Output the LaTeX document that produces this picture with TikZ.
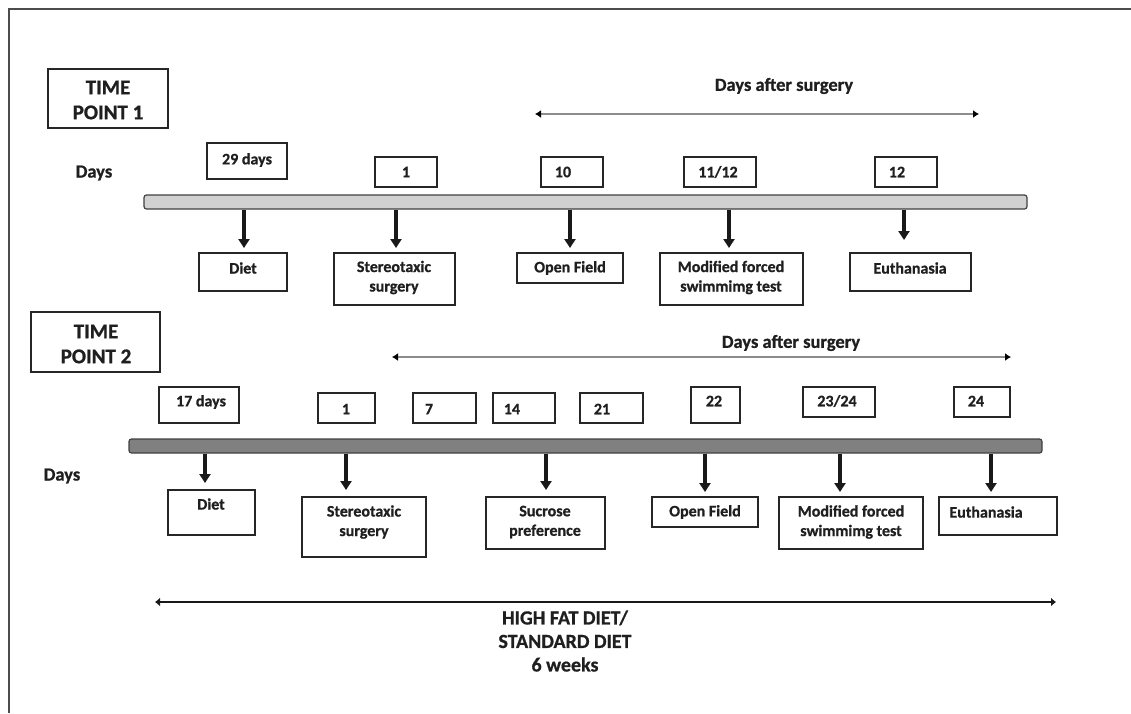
\documentclass[tikz,border=0pt]{standalone}
\usepackage{fontspec}
\setmainfont{Carlito}[BoldFeatures={FakeBold=0.8}]
\usetikzlibrary{arrows.meta,fit}
\begin{document}
\begin{tikzpicture}[x=1pt,y=-1pt,
  box/.style={draw=black!85, line width=1.6pt, inner sep=0pt},
  lbl/.style={font=\bfseries\fontsize{16}{19.5}\selectfont, align=center, inner sep=0pt, text=black!88},
  big/.style={font=\bfseries\fontsize{21}{25}\selectfont, align=center, inner sep=0pt, text=black!88},
  head/.style={font=\bfseries\fontsize{18.5}{25}\selectfont, align=center, inner sep=0pt, text=black!88},
  diettxt/.style={font=\bfseries\fontsize{20}{23.5}\selectfont, align=center, inner sep=0pt, text=black!88},
  bar/.style={draw=black!75, line width=1.2pt, rounded corners=2.5pt, inner sep=0pt},
  darr/.style={line width=3.6pt, black!90, -{Triangle[length=9pt,width=11pt]}},
  rng/.style={line width=1.8pt, black!45, {Latex[length=6pt,width=8pt,color=black]}-{Latex[length=6pt,width=8pt,color=black]}},
  diet/.style={line width=2.6pt, black!90, {Latex[length=5pt,width=9pt]}-{Latex[length=5pt,width=9pt]}}
]
\useasboundingbox (0,0) rectangle (1131,713);
\draw[black!70, line width=1.2pt] (9,713) -- (9,9) -- (1131,9);

% ---------------- TIME POINT 1 ----------------
\node[box, fit={(48,69) (168,128)}] (tp1) {};
\node[big] (tp1t) at (108,100) {TIME\\POINT 1};
\node[head] (das1) at (784,86) {Days after surgery};
\coordinate (r1a) at (535,114);
\coordinate (r1b) at (979,114);
\draw[rng] (r1a) -- (r1b);
\node[head] (days1) at (94,173) {Days};

\node[box, fit={(207,143) (287,179)}] (t1a) {};
\node[lbl] (t1at) at (247,160) {29 days};
\node[box, fit={(375,157) (437,187)}] (t1b) {};
\node[lbl] (t1bt) at (406,172) {1};
\node[box, fit={(541,157) (603,187)}] (t1c) {};
\node[lbl] (t1ct) at (563,172) {10};
\node[box, fit={(684,157) (756,187)}] (t1d) {};
\node[lbl] (t1dt) at (718,172) {11/12};
\node[box, fit={(875,157) (937,187)}] (t1e) {};
\node[lbl] (t1et) at (897,172) {12};

\node[bar, fill=black!18, fit={(144,195) (1027,209)}] (bar1) {};

\node[box, fit={(199,253) (287,291)}] (b1a) {};
\node[lbl] (b1at) at (243,268) {Diet};
\node[box, fit={(334,253) (455,305)}] (b1b) {};
\node[lbl] (b1bt) at (394,277.5) {Stereotaxic\\surgery};
\node[box, fit={(517,253) (623,283)}] (b1c) {};
\node[lbl] (b1ct) at (570,268) {Open Field};
\node[box, fit={(660,253) (803,305)}] (b1d) {};
\node[lbl] (b1dt) at (731,277.5) {Modified forced\\swimmimg test};
\node[box, fit={(850,253) (971,291)}] (b1e) {};
\node[lbl] (b1et) at (910,268) {Euthanasia};

\coordinate (e1a) at (244,248);
\coordinate (e1b) at (396,248);
\coordinate (e1c) at (570,248);
\coordinate (e1d) at (729,248);
\coordinate (e1e) at (904,240);
\foreach \e in {e1a,e1b,e1c,e1d,e1e}
  \draw[darr] (\e |- bar1.south) -- (\e);

% ---------------- TIME POINT 2 ----------------
\node[box, fit={(31,312) (160,372)}] (tp2) {};
\node[big] (tp2t) at (96,344) {TIME\\POINT 2};
\node[head] (das2) at (791,343) {Days after surgery};
\coordinate (r2a) at (392,357);
\coordinate (r2b) at (1011,357);
\draw[rng] (r2a) -- (r2b);
\node[head] (days2) at (62,476) {Days};

\node[box, fit={(159,387) (239,423)}] (t2a) {};
\node[lbl] (t2at) at (201,402) {17 days};
\node[box, fit={(318,393) (375,423)}] (t2b) {};
\node[lbl] (t2bt) at (346,409) {1};
\node[box, fit={(413,393) (476,423)}] (t2c) {};
\node[lbl] (t2ct) at (429,409) {7};
\node[box, fit={(493,393) (555,423)}] (t2d) {};
\node[lbl] (t2dt) at (512,409) {14};
\node[box, fit={(580,393) (643,423)}] (t2e) {};
\node[lbl] (t2et) at (602,409) {21};
\node[box, fit={(691,387) (740,423)}] (t2f) {};
\node[lbl] (t2ft) at (714,401) {22};
\node[box, fit={(803,387) (875,417)}] (t2g) {};
\node[lbl] (t2gt) at (837,401) {23/24};
\node[box, fit={(954,387) (1010,417)}] (t2h) {};
\node[lbl] (t2ht) at (976,401) {24};

\node[bar, fill=black!50, fit={(129,439) (1042,453)}] (bar2) {};

\node[box, fit={(168,490) (255,535)}] (b2a) {};
\node[lbl] (b2at) at (211,504) {Diet};
\node[box, fit={(302,497) (426,557)}] (b2b) {};
\node[lbl] (b2bt) at (364,522) {Stereotaxic\\surgery};
\node[box, fit={(486,497) (605,549)}] (b2c) {};
\node[lbl] (b2ct) at (545,522) {Sucrose\\preference};
\node[box, fit={(652,497) (758,527)}] (b2d) {};
\node[lbl] (b2dt) at (705,512) {Open Field};
\node[box, fit={(779,497) (923,549)}] (b2e) {};
\node[lbl] (b2et) at (851,522) {Modified forced\\swimmimg test};
\node[box, fit={(939,497) (1057,535)}] (b2f) {};
\node[lbl] (b2ft) at (986,512) {Euthanasia};

\coordinate (e2a) at (205,483);
\coordinate (e2b) at (346,490);
\coordinate (e2c) at (546,490);
\coordinate (e2d) at (705,492);
\coordinate (e2e) at (840,492);
\coordinate (e2f) at (991,492);
\foreach \e in {e2a,e2b,e2c,e2d,e2e,e2f}
  \draw[darr] (\e |- bar2.south) -- (\e);

% ---------------- Diet span ----------------
\coordinate (da) at (155,602);
\coordinate (db) at (1056,602);
\draw[diet] (da) -- (db);
\node[diettxt] (dtxt) at (565,641) {HIGH FAT DIET/\\STANDARD DIET\\6 weeks};
\end{tikzpicture}
\end{document}
